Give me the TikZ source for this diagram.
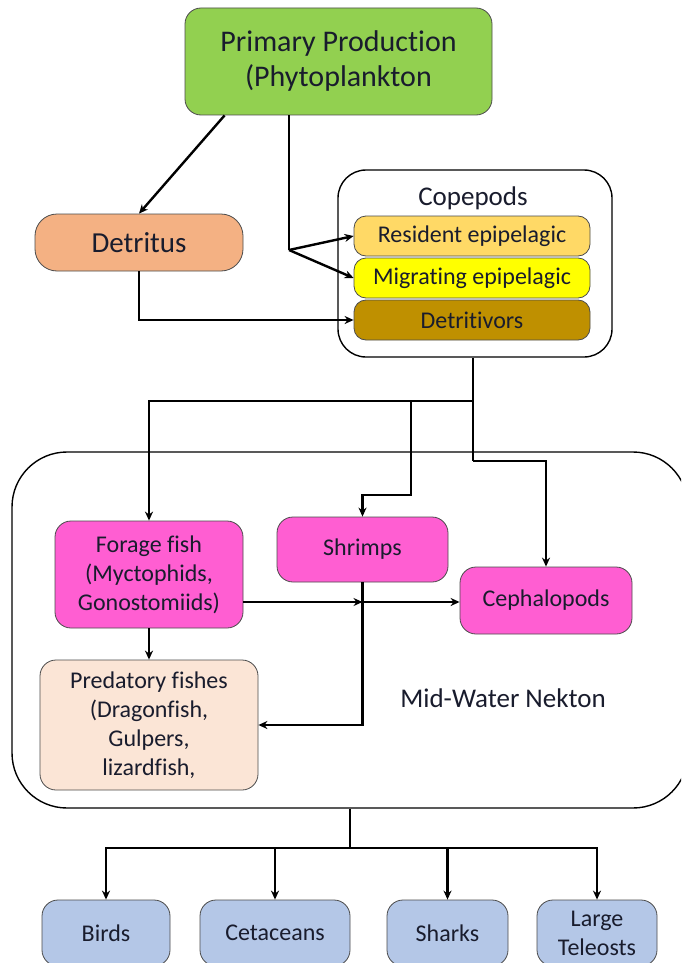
\documentclass[tikz,border=0pt]{standalone}
\usepackage{fontspec}
\setmainfont{Carlito}[Ligatures=NoCommon]
\usetikzlibrary{arrows.meta,calc}
\definecolor{fwgreen}{RGB}{146,208,80}
\definecolor{fwpeach}{RGB}{244,177,131}
\definecolor{fwres}{RGB}{255,217,102}
\definecolor{fwmig}{RGB}{255,255,0}
\definecolor{fwdet}{RGB}{191,144,0}
\definecolor{fwpink}{RGB}{255,94,210}
\definecolor{fwpale}{RGB}{251,229,214}
\definecolor{fwblue}{RGB}{180,199,231}
\definecolor{fwtext}{RGB}{25,28,45}

\begin{document}
\begin{tikzpicture}[x=1pt,y=-1pt,
  box/.style={draw=black!70,line width=0.8pt,rounded corners=16pt,align=center,
    inner sep=0pt,text=fwtext,font=\fontsize{24}{29}\selectfont},
  group/.style={draw=black,line width=1.4pt,inner sep=0pt},
  label/.style={text=fwtext,font=\fontsize{27}{32}\selectfont},
  link/.style={line width=2.4pt},
  arr/.style={link,-{Stealth[length=9pt,width=8pt]}}]
  \clip (0,0) rectangle (681,963);
  \fill[white] (0,0) rectangle (681,963);
  % top
  \node[box,fill=fwgreen,minimum width=307pt,minimum height=107pt,
    font=\fontsize{30}{35}\selectfont] (prim) at (338.5,61.5) {Primary Production\\(Phytoplankton};
  \node[box,fill=fwpeach,minimum width=208pt,minimum height=57pt,rounded corners=22pt,
    font=\fontsize{29}{34}\selectfont] (detr) at (139,242.5) {Detritus};
  % copepods
  \node[group,rounded corners=28pt,minimum width=274pt,minimum height=187pt] (cope) at (475,263.5) {};
  \node[label] (copet) at (473,198) {Copepods};
  \node[box,fill=fwres,minimum width=236pt,minimum height=40pt,rounded corners=12pt] (res) at (472,236) {Resident epipelagic};
  \node[box,fill=fwmig,minimum width=236pt,minimum height=40pt,rounded corners=12pt] (mig) at (472,278) {Migrating epipelagic};
  \node[box,fill=fwdet,minimum width=236pt,minimum height=40pt,rounded corners=12pt] (dtv) at (472,320) {Detritivors};
  % mid-water nekton
  \node[group,rounded corners=55pt,minimum width=676pt,minimum height=356pt] (nek) at (350,630) {};
  \node[label] (nekt) at (503,698) {Mid-Water Nekton};
  \node[box,fill=fwpink,minimum width=188pt,minimum height=107pt] (forage) at (149,574.5) {Forage fish\\(Myctophids,\\Gonostomiids)};
  \node[box,fill=fwpink,minimum width=171pt,minimum height=65pt] (shrimp) at (362.5,549.5) {Shrimps};
  \node[box,fill=fwpink,minimum width=172pt,minimum height=67pt] (ceph) at (546,600.5) {Cephalopods};
  \node[box,fill=fwpale,minimum width=218pt,minimum height=130pt] (pred) at (149,725) {Predatory fishes\\(Dragonfish,\\Gulpers,\\lizardfish,};
  % top predators
  \node[box,fill=fwblue,minimum width=128pt,minimum height=66pt] (birds) at (106,933) {Birds};
  \node[box,fill=fwblue,minimum width=150pt,minimum height=66pt] (ceta) at (275,933) {Cetaceans};
  \node[box,fill=fwblue,minimum width=121pt,minimum height=66pt] (shark) at (447.5,933) {Sharks};
  \node[box,fill=fwblue,minimum width=120pt,minimum height=66pt] (tele) at (597,933) {Large\\Teleosts};
  % junctions
  \coordinate (j1) at (289,250);
  \coordinate (k0) at (473,0);
  \coordinate (k1) at (0,401);
  \coordinate (k2) at (411,495);
  \coordinate (k3) at (0,461);
  \coordinate (k4) at (0,602);
  \coordinate (k5) at (0,848);
  % links
  \draw[arr] ($(prim.south west)+(40,0)$) -- (detr.north);
  \draw[link] (prim.south -| j1) -- (j1);
  \draw[arr] (j1) -- (res.west);
  \draw[arr] (j1) -- (mig.west);
  \draw[arr] (detr.south) |- (dtv.west);
  \draw[link] (cope.south -| k0) -- (k0 |- k3);
  \draw[arr] (k0 |- k1) -| (forage.north);
  \draw[arr] (k2 |- k1) -- (k2) -| (shrimp.north);
  \draw[arr] (k0 |- k3) -| (ceph.north);
  \draw[arr] (forage.east |- k4) -- (shrimp.south |- k4);
  \draw[arr] (shrimp.south |- k4) -- (ceph.west |- k4);
  \draw[arr] (shrimp.south) |- (pred.east);
  \draw[arr] (forage.south) -- (pred.north);
  \draw[link] (nek.south) -- (nek.south |- k5);
  \foreach \n in {birds,ceta,shark,tele}
    \draw[arr] (nek.south |- k5) -| (\n.north);
\end{tikzpicture}
\end{document}
